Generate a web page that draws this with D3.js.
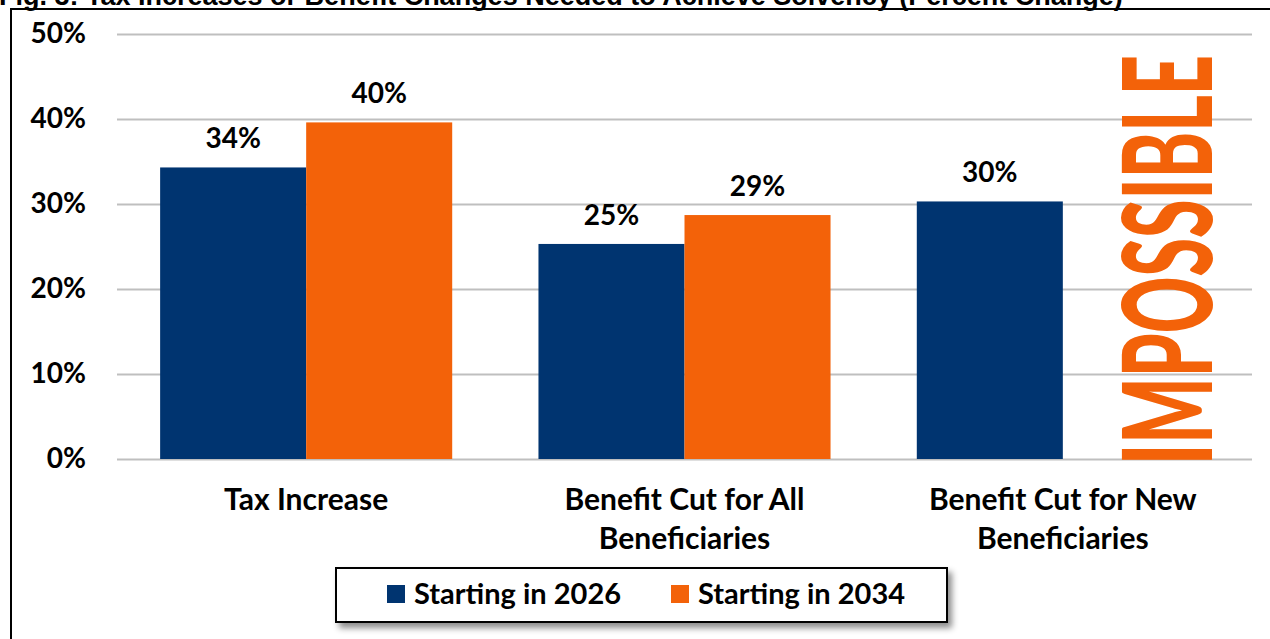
<!DOCTYPE html>
<html>
<head>
<meta charset="utf-8">
<script src="https://cdn.jsdelivr.net/npm/d3@7"></script>
<style>
  body { margin: 0; background: #fff; }
  svg { display: block; }
</style>
</head>
<body>
<svg width="1270" height="639"></svg>
<script>
var categories = [["Tax Increase"], ["Benefit Cut for All", "Beneficiaries"], ["Benefit Cut for New", "Beneficiaries"]];
var seriesNames = ["Starting in 2026", "Starting in 2034"];
var start2026 = [34.3, 25.3, 30.3];
var start2034 = [39.6, 28.7, null];
var valueLabels2026 = ["34%", "25%", "30%"];
var valueLabels2034 = ["40%", "29%", ""];
var yTicks = [0, 10, 20, 30, 40, 50];
var colors = ["#003470", "#F36209"];

var svg = d3.select("svg");
var font = "Lato, 'Open Sans', sans-serif";

// title (clipped at the top like the source image)
svg.append("text")
    .attr("x", -1)
    .attr("y", 5)
    .attr("font-family", "'Liberation Sans', Arial, sans-serif")
    .attr("font-weight", "bold")
    .attr("font-size", 27)
    .text("Fig. 3: Tax Increases or Benefit Changes Needed to Achieve Solvency (Percent Change)");

// chart frame
svg.append("rect")
    .attr("x", 11).attr("y", 9)
    .attr("width", 1300).attr("height", 700)
    .attr("fill", "none")
    .attr("stroke", "#000")
    .attr("stroke-width", 2);

var plotLeft = 117, plotRight = 1252, plotTop = 34, plotBottom = 459;

var y = d3.scaleLinear().domain([0, 50]).range([plotBottom, plotTop]);

var x0 = d3.scaleBand()
    .domain(d3.range(categories.length))
    .range([plotLeft, plotRight])
    .paddingInner(0.228)
    .paddingOuter(0.114);

var x1 = d3.scaleBand()
    .domain([0, 1])
    .range([0, x0.bandwidth()]);

// gridlines + y labels
var yAxis = d3.axisLeft(y)
    .tickValues(yTicks)
    .tickSize(-(plotRight - plotLeft))
    .tickPadding(31)
    .tickFormat(function(d) { return d + "%"; });

var ga = svg.append("g")
    .attr("transform", "translate(" + plotLeft + ",0)")
    .call(yAxis);
ga.select(".domain").remove();
ga.selectAll(".tick line").attr("stroke", "#BFBFBF").attr("stroke-width", 2);
ga.selectAll(".tick text")
    .attr("font-family", font)
    .attr("font-weight", "bold")
    .attr("font-size", 28)
    .attr("fill", "#000");

// bars
var rows = categories.map(function(c, i) {
  return [
    {cat: i, s: 0, v: start2026[i], label: valueLabels2026[i]},
    {cat: i, s: 1, v: start2034[i], label: valueLabels2034[i]}
  ];
});
var flat = [].concat.apply([], rows).filter(function(d) { return d.v != null; });

svg.append("g").selectAll("rect")
    .data(flat)
    .enter().append("rect")
    .attr("x", function(d) { return x0(d.cat) + x1(d.s); })
    .attr("y", function(d) { return y(d.v); })
    .attr("width", x1.bandwidth())
    .attr("height", function(d) { return y(0) - y(d.v); })
    .attr("fill", function(d) { return colors[d.s]; });

svg.append("g").selectAll("text")
    .data(flat)
    .enter().append("text")
    .attr("x", function(d) { return x0(d.cat) + x1(d.s) + x1.bandwidth() / 2; })
    .attr("y", function(d) { return y(d.v) - 19; })
    .attr("text-anchor", "middle")
    .attr("font-family", font)
    .attr("font-weight", "bold")
    .attr("font-size", 28)
    .text(function(d) { return d.label; });

// IMPOSSIBLE in the empty slot
var ix = x0(2) + x1(1) + x1.bandwidth() / 2;
svg.append("text")
    .attr("transform", "translate(" + (ix + 76) + "," + (y(0) + 6) + ") rotate(-90)")
    .attr("font-family", font)
    .attr("font-weight", 900)
    .attr("font-size", 124)
    .attr("fill", colors[1])
    .attr("textLength", 410)
    .attr("lengthAdjust", "spacingAndGlyphs")
    .text("IMPOSSIBLE");

// category labels
var cl = svg.append("g").selectAll("text")
    .data(categories)
    .enter().append("text")
    .attr("x", function(d, i) { return x0(i) + x0.bandwidth() / 2; })
    .attr("y", 510)
    .attr("text-anchor", "middle")
    .attr("font-family", font)
    .attr("font-weight", "bold")
    .attr("font-size", 30);
cl.selectAll("tspan")
    .data(function(d) { return d; })
    .enter().append("tspan")
    .attr("x", function() { return d3.select(this.parentNode).attr("x"); })
    .attr("dy", function(d, i) { return i ? 39 : 0; })
    .text(function(d) { return d; });

// legend
var defs = svg.append("defs");
var f = defs.append("filter").attr("id", "shadow").attr("x", "-5%").attr("y", "-20%").attr("width", "115%").attr("height", "160%");
f.append("feDropShadow").attr("dx", 4).attr("dy", 5).attr("stdDeviation", 3).attr("flood-color", "#000").attr("flood-opacity", 0.45);

var lg = svg.append("g");
lg.append("rect")
    .attr("x", 336).attr("y", 568)
    .attr("width", 611).attr("height", 54)
    .attr("fill", "#fff")
    .attr("stroke", "#000")
    .attr("stroke-width", 2)
    .attr("filter", "url(#shadow)");

var legendX = [387, 671];
seriesNames.forEach(function(n, i) {
  lg.append("rect")
      .attr("x", legendX[i]).attr("y", 585)
      .attr("width", 18).attr("height", 18)
      .attr("fill", colors[i]);
  lg.append("text")
      .attr("x", legendX[i] + 27).attr("y", 604)
      .attr("font-family", font)
      .attr("font-weight", "bold")
      .attr("font-size", 29)
      .text(n);
});
</script>
</body>
</html>
